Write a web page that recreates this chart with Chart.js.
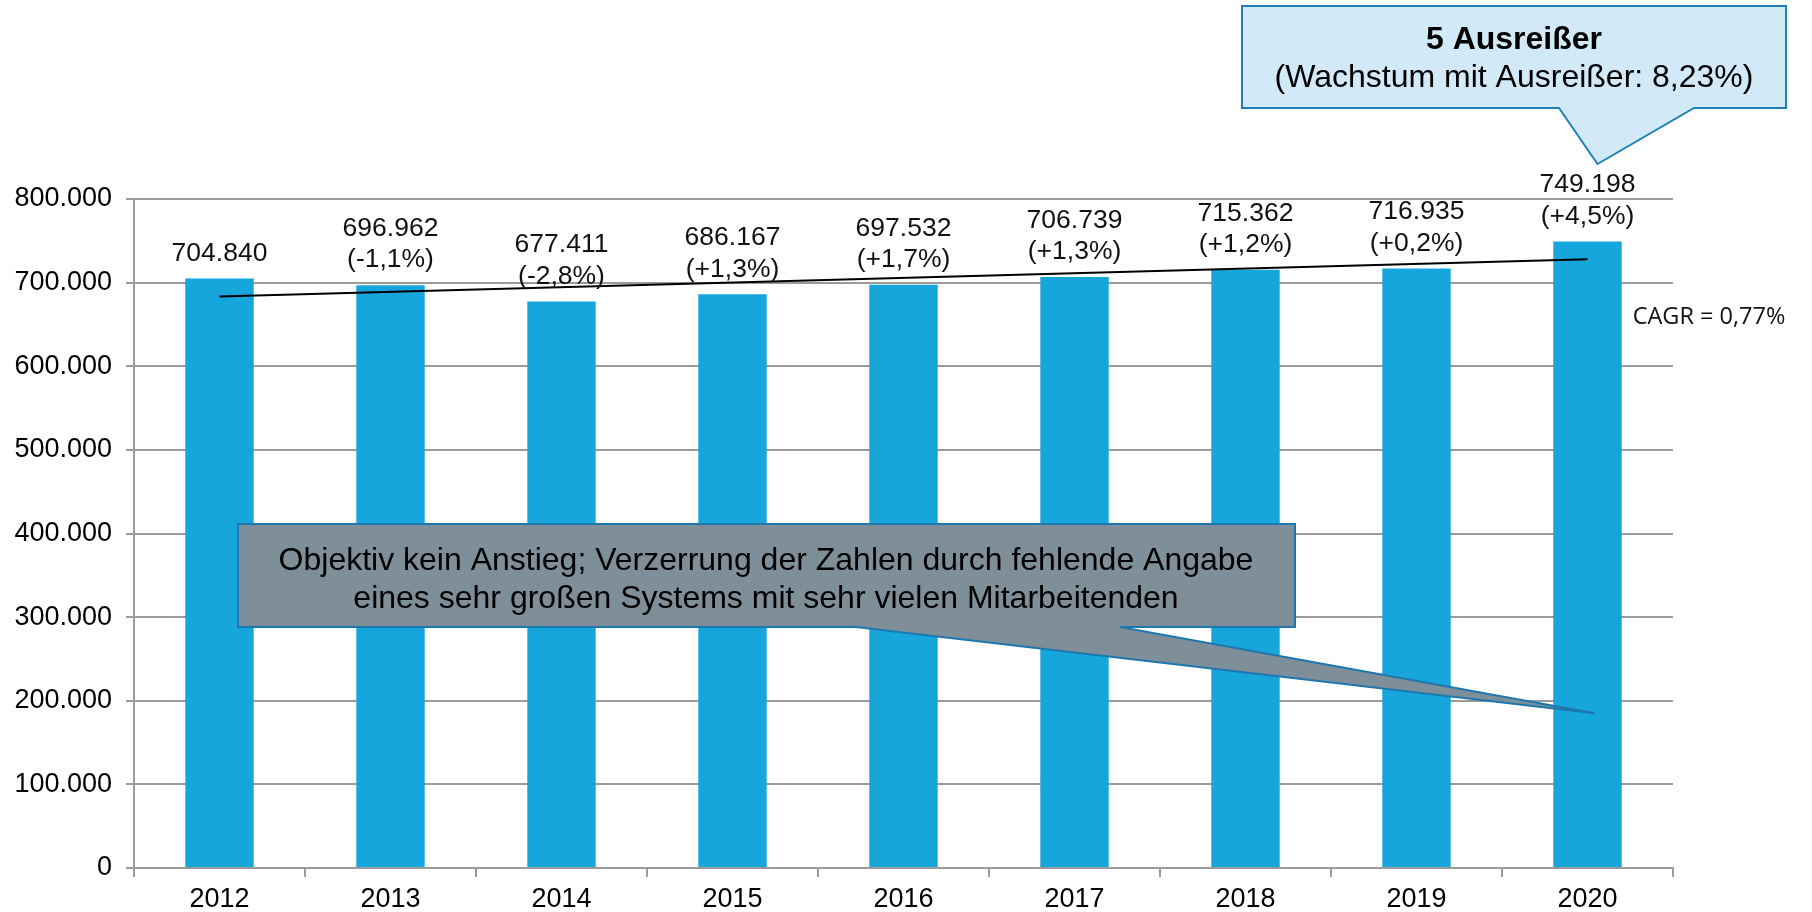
<!DOCTYPE html>
<html>
<head>
<meta charset="utf-8">
<script src="https://cdn.jsdelivr.net/npm/chart.js@4"></script>
<style>
  html, body { margin: 0; padding: 0; background: #fff; }
  canvas { display: block; }
</style>
</head>
<body>
<canvas id="myChart" width="1812" height="912"></canvas>
<script>
const years = ["2012", "2013", "2014", "2015", "2016", "2017", "2018", "2019", "2020"];
const employees = [704840, 696962, 677411, 686167, 697532, 706739, 715362, 716935, 749198];
const changeLabels = ["", "(-1,1%)", "(-2,8%)", "(+1,3%)", "(+1,7%)", "(+1,3%)", "(+1,2%)", "(+0,2%)", "(+4,5%)"];
const trendValues = [683400, null, null, null, null, null, null, null, 727900]; // end points of the trend line
const yTicks = [0, 100000, 200000, 300000, 400000, 500000, 600000, 700000, 800000];

const cagrText = "CAGR = 0,77%";
const outlierTitle = "5 Ausreißer";
const outlierNote = "(Wachstum mit Ausreißer: 8,23%)";
const commentLines = [
  "Objektiv kein Anstieg; Verzerrung der Zahlen durch fehlende Angabe",
  "eines sehr großen Systems mit sehr vielen Mitarbeitenden",
];

const FONT = '"Liberation Sans", Arial, sans-serif';
const GRID = "#9b9b9b";

function fmt(v) {
  return String(v).replace(/\B(?=(\d{3})+(?!\d))/g, ".");
}

// value labels above the bars, plus the CAGR note
const barLabels = {
  id: "barLabels",
  afterDatasetsDraw(chart) {
    const ctx = chart.ctx;
    const meta = chart.getDatasetMeta(1);
    ctx.save();
    ctx.fillStyle = "#111";
    ctx.font = "26.5px " + FONT;
    ctx.textAlign = "center";
    ctx.textBaseline = "middle";
    meta.data.forEach((bar, i) => {
      const lines = [fmt(employees[i])];
      if (changeLabels[i]) lines.push(changeLabels[i]);
      let y = bar.y - 25;
      for (let k = lines.length - 1; k >= 0; k--) {
        ctx.fillText(lines[k], bar.x, y);
        y -= 31.5;
      }
    });
    const last = meta.data[meta.data.length - 1];
    ctx.font = '23.5px "Open Sans", sans-serif';
    ctx.textAlign = "left";
    ctx.fillText(cagrText, last.x + last.width / 2 + 11, chart.scales.y.getPixelForValue(659000));
    ctx.restore();
  },
};

function callout(ctx, box, base, tip, fill, stroke) {
  ctx.beginPath();
  ctx.moveTo(box.l, box.t);
  ctx.lineTo(box.r, box.t);
  ctx.lineTo(box.r, box.b);
  ctx.lineTo(base[1], box.b);
  ctx.lineTo(tip.x, tip.y);
  ctx.lineTo(base[0], box.b);
  ctx.lineTo(box.l, box.b);
  ctx.closePath();
  ctx.fillStyle = fill;
  ctx.fill();
  ctx.lineWidth = 2;
  ctx.strokeStyle = stroke;
  ctx.stroke();
}

// the two speech-bubble notes
const notes = {
  id: "notes",
  afterDraw(chart) {
    const ctx = chart.ctx;
    const xs = chart.scales.x;
    const ys = chart.scales.y;
    const lastX = xs.getPixelForValue(years.length - 1);
    ctx.save();

    callout(ctx, { l: 1242, t: 6, r: 1786, b: 108 }, [1559, 1694],
      { x: lastX + 10, y: 164 }, "#d2eaf8", "#1f80b8");
    ctx.fillStyle = "#000";
    ctx.textAlign = "center";
    ctx.textBaseline = "middle";
    ctx.font = "bold 32px " + FONT;
    ctx.fillText(outlierTitle, 1514, 40);
    ctx.font = "32px " + FONT;
    ctx.fillText(outlierNote, 1514, 78);

    callout(ctx, { l: 238, t: 524, r: 1295, b: 627 }, [856, 1120],
      { x: lastX + 7, y: ys.getPixelForValue(185000) }, "#7e8f99", "#1f77b0");
    ctx.fillStyle = "#000";
    ctx.font = "32px " + FONT;
    ctx.fillText(commentLines[0], 766, 561);
    ctx.fillText(commentLines[1], 766, 599);
    ctx.restore();
  },
};

const ctx = document.getElementById("myChart").getContext("2d");
new Chart(ctx, {
  data: {
    labels: years,
    datasets: [
      {
        type: "line",
        data: trendValues,
        spanGaps: true,
        borderColor: "#000",
        borderWidth: 2,
        pointRadius: 0,
        order: 0,
      },
      {
        type: "bar",
        data: employees,
        backgroundColor: "#17a6dc",
        barPercentage: 0.4,
        categoryPercentage: 1,
        order: 1,
      },
    ],
  },
  options: {
    responsive: false,
    animation: false,
    devicePixelRatio: 1,
    layout: { padding: { top: 199, right: 139, left: 0, bottom: 0 } },
    plugins: {
      legend: { display: false },
      tooltip: { enabled: false },
    },
    scales: {
      x: {
        grid: {
          offset: true,
          drawOnChartArea: false,
          drawTicks: true,
          tickLength: 9,
          color: GRID,
          lineWidth: 2,
        },
        border: { display: true, color: GRID, width: 2 },
        ticks: {
          color: "#000",
          font: { family: FONT, size: 27 },
          padding: 6,
          maxRotation: 0,
        },
        afterFit: (scale) => { scale.height = 44; },
      },
      y: {
        min: 0,
        max: 800000,
        afterBuildTicks: (scale) => { scale.ticks = yTicks.map((v) => ({ value: v })); },
        grid: { color: GRID, lineWidth: 2, tickLength: 8 },
        border: { display: true, color: GRID, width: 2 },
        ticks: {
          color: "#000",
          font: { family: FONT, size: 27 },
          padding: 14,
          callback: (v) => fmt(v),
        },
        afterFit: (scale) => { scale.width = 134; },
      },
    },
  },
  plugins: [barLabels, notes],
});
</script>
</body>
</html>
